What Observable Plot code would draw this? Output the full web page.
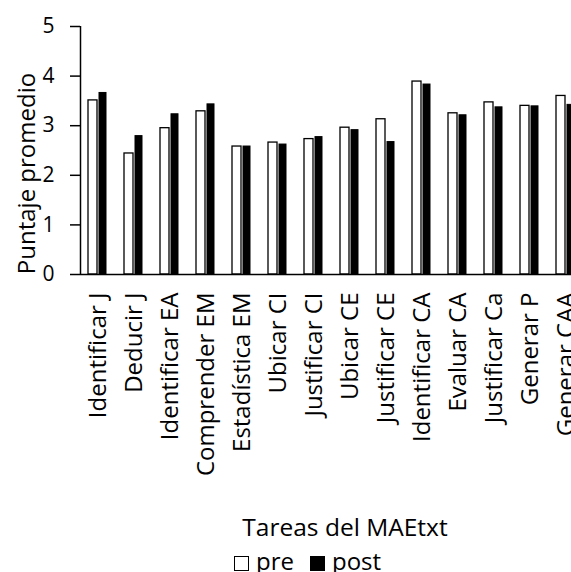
<!DOCTYPE html>
<html>
<head>
<meta charset="utf-8">
<script src="https://cdn.jsdelivr.net/npm/d3@7"></script>
<script src="https://cdn.jsdelivr.net/npm/@observablehq/plot@0.6"></script>
<style>
  html, body { margin: 0; padding: 0; background: white; overflow: hidden; }
  body { width: 571px; height: 572px; position: relative; font-family: "Open Sans", sans-serif; }
  #chart { position: absolute; left: 0; top: 0; }
  #xtitle { position: absolute; top: 511px; left: 0; width: 690px; text-align: center; font-size: 24.5px; line-height: 32px; color: #000; }
  #legend { position: absolute; top: 545px; left: 234px; font-size: 24px; line-height: 32px; white-space: nowrap; color: #000; display: flex; align-items: center; }
  .sw { display: inline-block; width: 13px; height: 13px; border: 1px solid #000; margin-right: 7px; position: relative; top: 2px; }
  .item { display: inline-flex; align-items: center; margin-right: 16px; }
</style>
</head>
<body>
<div id="chart"></div>
<div id="xtitle">Tareas del MAEtxt</div>
<div id="legend"></div>
<script>
const tasks = ["Identificar J","Deducir J","Identificar EA","Comprender EM","Estadística EM","Ubicar CI","Justificar CI","Ubicar CE","Justificar CE","Identificar CA","Evaluar CA","Justificar Ca","Generar P","Generar CAA"];
const pre  = [3.51, 2.44, 2.95, 3.29, 2.58, 2.66, 2.73, 2.96, 3.13, 3.89, 3.25, 3.47, 3.40, 3.60];
const post = [3.66, 2.79, 3.23, 3.43, 2.58, 2.62, 2.77, 2.91, 2.67, 3.83, 3.21, 3.37, 3.39, 3.42];
const series = ["pre", "post"];
const yTicks = [0, 1, 2, 3, 4, 5];
const yLabel = "Puntaje promedio";

const preRows = tasks.map((t, i) => ({task: t, value: pre[i]}));
const postRows = tasks.map((t, i) => ({task: t, value: post[i]}));

const chart = Plot.plot({
  width: 584,
  height: 500,
  marginLeft: 80,
  marginRight: 0,
  marginTop: 26,
  marginBottom: 226,
  style: {fontFamily: "Open Sans, sans-serif", fontSize: "20px", color: "#000", background: "transparent", maxWidth: "none", overflow: "visible"},
  x: {type: "band", domain: tasks, padding: 0},
  y: {domain: [0, 5]},
  marks: [
    Plot.barY(preRows, {x: "task", y: "value", fill: "white", stroke: "black", strokeWidth: 1.3, insetLeft: 8, insetRight: 19}),
    Plot.barY(postRows, {x: "task", y: "value", fill: "black", stroke: "black", strokeWidth: 1, insetLeft: 19, insetRight: 10}),
    Plot.ruleY([0], {stroke: "black", strokeWidth: 1.5}),
    Plot.ruleX([tasks[0]], {x: d => d, y1: 0, y2: 5, dx: -18, stroke: "black", strokeWidth: 1.5}),
    Plot.axisY({ticks: yTicks, tickSize: 10, tickPadding: 16, tickFormat: d => String(d), fontSize: 21, label: null, strokeWidth: 1.5}),
    Plot.axisX({tickRotate: -90, tickSize: 0, tickPadding: 18, fontSize: 24, label: null}),
    Plot.text([yLabel], {text: d => d, frameAnchor: "left", textAnchor: "middle", rotate: -90, dx: -53, dy: 23, fontSize: 24})
  ]
});
document.getElementById("chart").appendChild(chart);

const legend = document.getElementById("legend");
series.forEach((s, i) => {
  const item = document.createElement("span");
  item.className = "item";
  const sw = document.createElement("span");
  sw.className = "sw";
  sw.style.background = i === 0 ? "white" : "black";
  item.appendChild(sw);
  item.appendChild(document.createTextNode(s));
  legend.appendChild(item);
});
</script>
</body>
</html>
